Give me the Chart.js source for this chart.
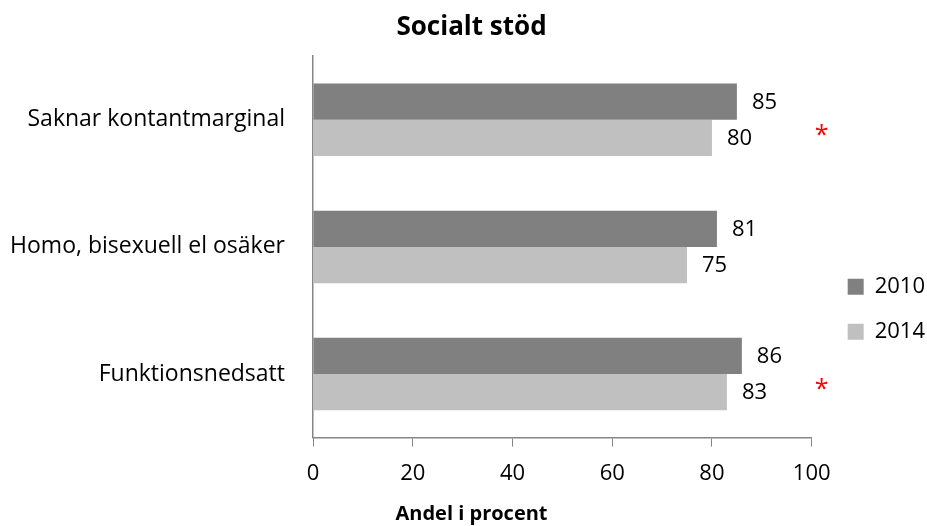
<!DOCTYPE html>
<html>
<head>
<meta charset="utf-8">
<script src="https://cdn.jsdelivr.net/npm/chart.js@4.4.1/dist/chart.umd.min.js"></script>
<style>
  html, body { margin: 0; padding: 0; background: #fff; }
</style>
</head>
<body>
<canvas id="chart" width="927" height="526"></canvas>
<script>
// Values
const categories = ["Saknar kontantmarginal", "Homo, bisexuell el osäker", "Funktionsnedsatt"];
const seriesNames = ["2010", "2014"];
const values2010 = [85, 81, 86];
const values2014 = [80, 75, 83];
const significant = [true, false, true]; // red asterisk next to the 2014 bar
const xTicks = [0, 20, 40, 60, 80, 100];

const FONT = "'Open Sans', sans-serif";
const AXIS_GREY = "#868686";

// Numbers to the right of each bar
const valueLabels = {
    id: "valueLabels",
    afterDatasetsDraw(chart) {
        const ctx = chart.ctx;
        ctx.save();
        ctx.font = "22px " + FONT;
        ctx.fillStyle = "#000";
        ctx.textAlign = "left";
        ctx.textBaseline = "middle";
        chart.data.datasets.forEach((ds, di) => {
            chart.getDatasetMeta(di).data.forEach((bar, i) => {
                ctx.fillText(String(ds.data[i]), bar.x + 15, bar.y + 1);
            });
        });
        ctx.restore();
    },
};

// Red asterisks marking a significant change
const asterisks = {
    id: "asterisks",
    afterDatasetsDraw(chart) {
        const ctx = chart.ctx;
        const x = chart.scales.x.getPixelForValue(102);
        const meta = chart.getDatasetMeta(1);
        ctx.save();
        ctx.font = "25px " + FONT;
        ctx.fillStyle = "#ff0000";
        ctx.textAlign = "center";
        ctx.textBaseline = "middle";
        significant.forEach((s, i) => {
            if (s) ctx.fillText("*", x, meta.data[i].y - 2);
        });
        ctx.restore();
    },
};

new Chart(document.getElementById("chart"), {
    type: "bar",
    data: {
        labels: categories,
        datasets: [
            {
                label: seriesNames[0],
                data: values2010,
                backgroundColor: "#808080",
                categoryPercentage: 0.57,
                barPercentage: 1.0,
            },
            {
                label: seriesNames[1],
                data: values2014,
                backgroundColor: "#c0c0c0",
                categoryPercentage: 0.57,
                barPercentage: 1.0,
            },
        ],
    },
    options: {
        indexAxis: "y",
        responsive: false,
        animation: false,
        layout: { padding: { left: 8, right: -8, top: 0, bottom: 0 } },
        scales: {
            x: {
                min: 0,
                max: 100,
                afterBuildTicks: (scale) => {
                    scale.ticks = xTicks.map((v) => ({ value: v }));
                },
                grid: {
                    drawOnChartArea: false,
                    drawTicks: true,
                    tickLength: 9,
                    color: AXIS_GREY,
                },
                border: { color: AXIS_GREY, width: 1.5 },
                ticks: {
                    color: "#000",
                    font: { family: FONT, size: 22 },
                    padding: 14,
                },
            },
            y: {
                grid: { display: false, drawTicks: false },
                border: { color: AXIS_GREY, width: 1.5 },
                ticks: {
                    color: "#000",
                    font: { family: FONT, size: 23 },
                    padding: 28,
                },
                afterFit: (scale) => {
                    scale.width = 305;
                },
            },
            // empty spacer between the plot and the legend
            yGap: {
                type: "category",
                position: "right",
                grid: { display: false, drawTicks: false },
                border: { display: false },
                ticks: { display: false },
                afterFit: (scale) => {
                    scale.width = 13;
                },
            },
        },
        plugins: {
            title: {
                display: true,
                text: "Socialt stöd",
                color: "#000",
                font: { family: FONT, size: 26, weight: "bold" },
                padding: { top: 12, bottom: 13 },
            },
            subtitle: {
                display: true,
                position: "bottom",
                text: "Andel i procent",
                color: "#000",
                font: { family: FONT, size: 20, weight: "bold" },
                padding: { top: 1, bottom: 0 },
            },
            legend: {
                position: "right",
                align: "center",
                maxWidth: 140,
                title: {
                    display: true,
                    text: " ",
                    padding: { top: 39, bottom: 39 },
                },
                labels: {
                    boxWidth: 16,
                    boxHeight: 16,
                    padding: 23,
                    color: "#000",
                    font: { family: FONT, size: 22 },
                },
            },
            tooltip: { enabled: false },
        },
    },
    plugins: [valueLabels, asterisks],
});
</script>
</body>
</html>
